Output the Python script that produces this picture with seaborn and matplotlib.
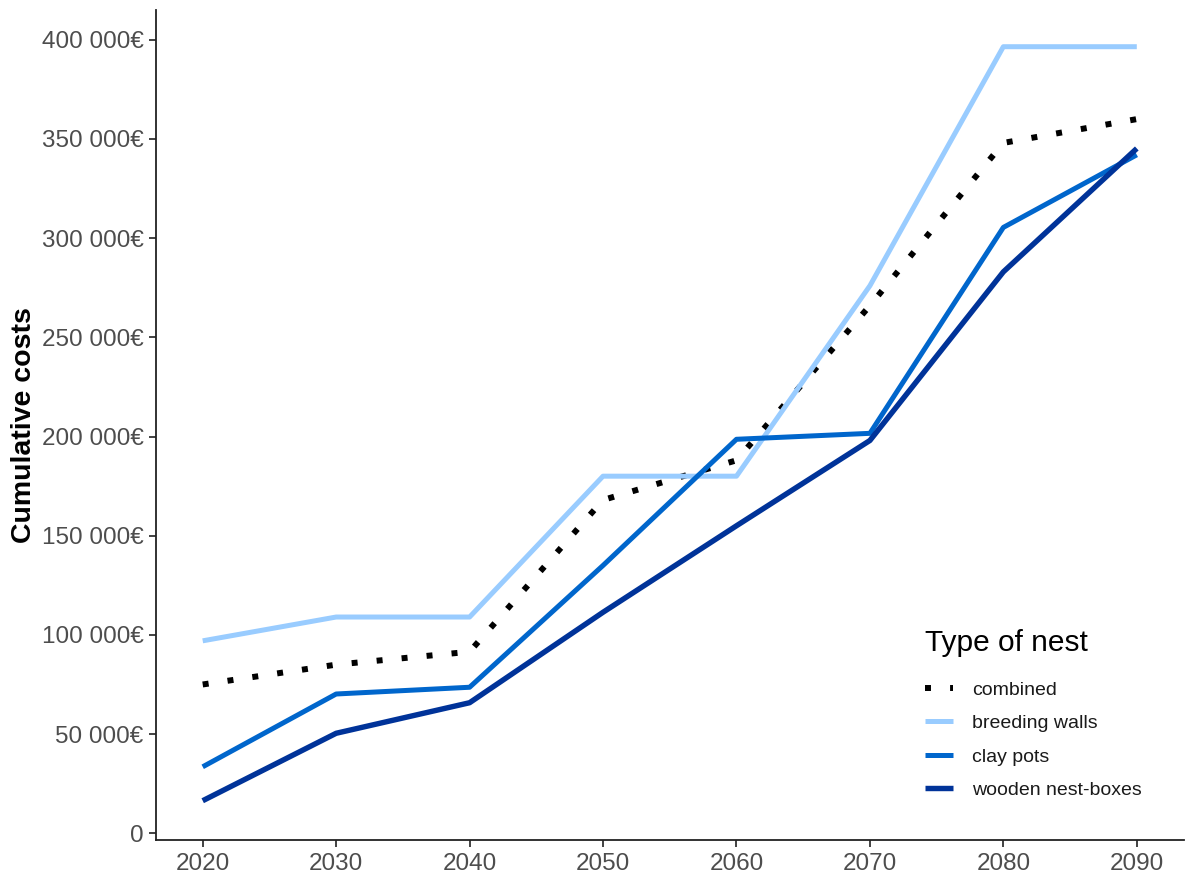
import matplotlib
matplotlib.use("Agg")
import matplotlib.pyplot as plt
import matplotlib.ticker as mticker
import seaborn as sns
import pandas as pd

years = [2020, 2030, 2040, 2050, 2060, 2070, 2080, 2090]
combined = [75000, 85000, 91500, 168000, 188000, 266000, 348000, 360000]
breeding_walls = [97000, 109000, 109000, 180000, 180000, 276000, 396500, 396500]
clay_pots = [33500, 70200, 73600, 135000, 198600, 201600, 305400, 342000]
wooden_nest_boxes = [16400, 50400, 65800, 111400, 155000, 198000, 283000, 345200]

series_names = ["combined", "breeding walls", "clay pots", "wooden nest-boxes"]
series_values = [combined, breeding_walls, clay_pots, wooden_nest_boxes]
colors = {"combined": "#000000", "breeding walls": "#99CCFF",
          "clay pots": "#0066CC", "wooden nest-boxes": "#003399"}
y_ticks = [0, 50000, 100000, 150000, 200000, 250000, 300000, 350000, 400000]

rows = []
for name, vals in zip(series_names, series_values):
    for yr, v in zip(years, vals):
        rows.append({"year": yr, "cost": v, "Type of nest": name})
df = pd.DataFrame(rows)

sns.set_theme(style="ticks")
plt.rcParams['font.family'] = ['Liberation Sans', 'DejaVu Sans']

fig = plt.figure(figsize=(11.86, 8.8), dpi=100)
ax = fig.add_axes([156/1186, 1-840/880, (1183.5-156)/1186, (840-10)/880])

dashes = {"combined": (1, 3.2), "breeding walls": "", "clay pots": "",
          "wooden nest-boxes": ""}
sns.lineplot(data=df, x="year", y="cost", hue="Type of nest", style="Type of nest",
             hue_order=series_names, style_order=series_names,
             palette=colors, dashes=dashes, linewidth=3.6, ax=ax, legend=False)

lines = ax.get_lines()
for ln, name in zip(lines, series_names):
    ln.set_label(name)
    ln.set_solid_capstyle("butt")
    ln.set_dash_capstyle("butt")
    if name == "combined":
        ln.set_linewidth(4.3)
    if name == "wooden nest-boxes":
        ln.set_linewidth(3.9)

ax.set_xlim(2016.5, 2093.5)
ax.set_ylim(-3400, 415000)
ax.set_xticks(years)
ax.set_yticks(y_ticks)
ax.yaxis.set_major_formatter(mticker.FuncFormatter(
    lambda v, p: ("{:,}".format(int(v)).replace(",", " ") + "€") if v != 0 else "0"))
ax.tick_params(axis="both", labelsize=17.5, labelcolor="#4D4D4D", color="#333333",
               length=5, width=1.3, pad=4)
ax.set_xlabel("")
ax.set_ylabel("Cumulative costs", fontsize=20.5, fontweight="bold", labelpad=3,
              color="black")
for s in ["top", "right"]:
    ax.spines[s].set_visible(False)
for s in ["left", "bottom"]:
    ax.spines[s].set_color("#222222")
    ax.spines[s].set_linewidth(1.3)
ax.grid(False)

leg = ax.legend(handles=lines[:4], labels=series_names, title="Type of nest",
                loc="upper left", bbox_to_anchor=(915/1186, 1-619/880),
                bbox_transform=fig.transFigure, frameon=False,
                fontsize=14, title_fontsize=21.5, handlelength=1.45,
                handletextpad=1.0, labelspacing=0.82, borderpad=0)
leg._legend_box.align = "left"
leg._legend_box.sep = 0.82 * 14 + 6
plt.setp(leg.get_title(), color="black")
for t in leg.get_texts():
    t.set_color("#1a1a1a")

fig.savefig("out.png", dpi=100)
